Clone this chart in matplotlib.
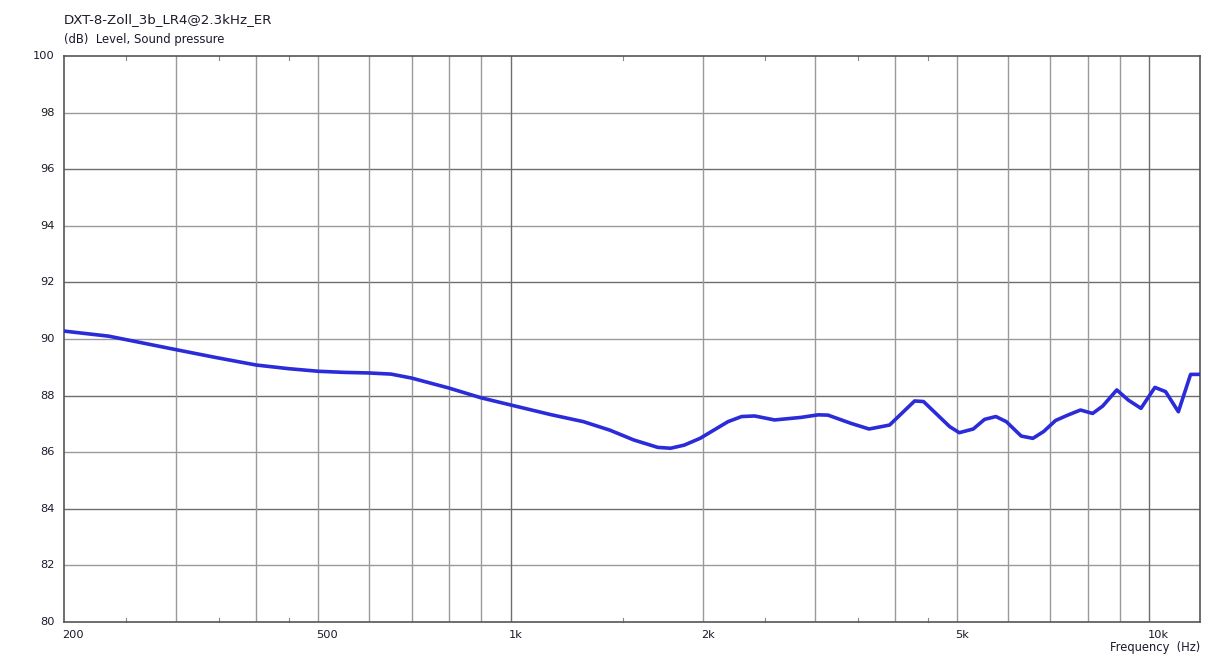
import matplotlib
matplotlib.use('Agg')
import matplotlib.pyplot as plt
import numpy as np

matplotlib.rcParams['font.family'] = 'DejaVu Sans'

# Frequency response (Hz, dB)
freq_hz = [200, 235, 300, 345, 400, 450, 500, 550, 600, 650, 700, 800, 900, 1000,
           1155, 1300, 1430, 1560, 1700, 1780, 1870, 1980, 2190, 2300, 2410,
           2590, 2850, 3030, 3140, 3410, 3640, 3800, 3920, 4290, 4430, 4870,
           5040, 5300, 5520, 5750, 5970, 6300, 6570, 6830, 7130, 7450, 7800,
           8150, 8450, 8890, 9270, 9700, 10200, 10600, 11100, 11600, 12000]
level_db = [90.28, 90.10, 89.62, 89.35, 89.08, 88.95, 88.86, 88.82, 88.80, 88.76,
            88.62, 88.27, 87.92, 87.67, 87.33, 87.08, 86.78, 86.43, 86.17, 86.14,
            86.25, 86.49, 87.08, 87.26, 87.28, 87.14, 87.23, 87.32, 87.31, 87.02,
            86.82, 86.90, 86.96, 87.81, 87.79, 86.90, 86.69, 86.82, 87.16, 87.26,
            87.08, 86.57, 86.49, 86.73, 87.12, 87.31, 87.49, 87.37, 87.63, 88.20,
            87.84, 87.55, 88.29, 88.14, 87.43, 88.75, 88.75]

y_ticks = [80, 82, 84, 86, 88, 90, 92, 94, 96, 98, 100]
x_grid = [300, 400, 500, 600, 700, 800, 900, 1000, 2000, 3000, 4000, 5000,
          6000, 7000, 8000, 9000, 10000]
x_labels = {200: '200', 500: '500', 1000: '1k', 2000: '2k', 5000: '5k', 10000: '10k'}
x_minor = [250, 350, 450, 1500, 2500, 3500, 4500]

fig = plt.figure(figsize=(12.22, 6.58), dpi=100)
ax = fig.add_axes([64 / 1222, 1 - 622 / 658, 1136 / 1222, 566 / 658])
ax.set_xscale('log')
ax.set_xlim(200, 12000)
ax.set_ylim(80, 100)

# Gitter: jede 4 dB und die Dekaden etwas dunkler
for y in y_ticks[1:-1]:
    dark = (y % 4 == 0)
    ax.axhline(y, color='#6e6e6e' if dark else '#9a9a9a', lw=1.0, zorder=1)
for x in x_grid:
    dark = x in (1000, 10000)
    ax.axvline(x, color='#6e6e6e' if dark else '#9a9a9a', lw=1.0, zorder=1)

ax.plot(freq_hz, level_db, color='#2b2bd9', lw=2.6, zorder=3)

for s in ax.spines.values():
    s.set_color('#555555')
    s.set_linewidth(1.2)

ax.set_xticks([])
ax.set_yticks([])
ax.minorticks_off()
ax.tick_params(which='both', length=0)

# kleine Striche oben/unten
for x in x_minor:
    ax.plot([x, x], [80, 80.15], color='#888888', lw=0.8, clip_on=False)
    ax.plot([x, x], [100, 99.85], color='#888888', lw=0.8, clip_on=False)

tc = '#1a1a2a'
for y in y_ticks:
    ax.text(-0.008, (y - 80) / 20, str(y), transform=ax.transAxes,
            ha='right', va='center', fontsize=8.2, color=tc)
for x, lab in x_labels.items():
    ax.annotate(lab, xy=(x, 0), xycoords=('data', 'axes fraction'),
                xytext=(-1.5, -6), textcoords='offset points',
                ha='left', va='top', fontsize=8.2, color=tc)

fig.text(1200 / 1222, 1 - 647 / 658, 'Frequency  (Hz)', ha='right', va='center',
         fontsize=8.3, color=tc)
fig.text(64 / 1222, 1 - 20 / 658, 'DXT-8-Zoll_3b_LR4@2.3kHz_ER', ha='left',
         va='center', fontsize=9.6, color=tc)
fig.text(64 / 1222, 1 - 39 / 658, '(dB)  Level, Sound pressure', ha='left',
         va='center', fontsize=8.4, color=tc)

fig.savefig('out.png', dpi=100, facecolor='white')
